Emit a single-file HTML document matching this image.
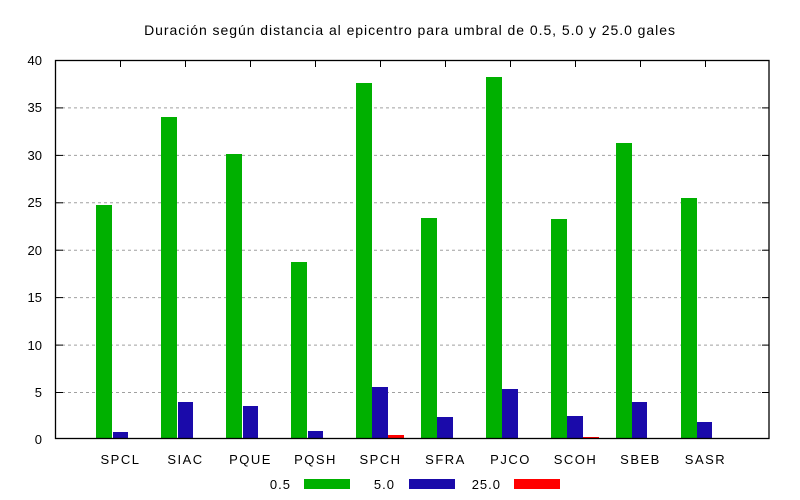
<!DOCTYPE html>
<html><head><meta charset="utf-8"><style>
html,body{margin:0;padding:0;background:#fff;}
svg{display:block;font-family:"Liberation Sans",Arial,sans-serif;}
</style></head><body>
<svg width="800" height="500" viewBox="0 0 800 500" xmlns="http://www.w3.org/2000/svg">
<rect width="800" height="500" fill="#fff"/>
<text x="410" y="35" font-size="14" letter-spacing="0.95" text-anchor="middle" fill="#000">Duración según distancia al epicentro para umbral de 0.5, 5.0 y 25.0 gales</text>
<g stroke="#a0a0a0" stroke-width="1" stroke-dasharray="3,3">
<line x1="56" x2="769" y1="107.9" y2="107.9"/>
<line x1="56" x2="769" y1="155.4" y2="155.4"/>
<line x1="56" x2="769" y1="202.8" y2="202.8"/>
<line x1="56" x2="769" y1="250.2" y2="250.2"/>
<line x1="56" x2="769" y1="297.6" y2="297.6"/>
<line x1="56" x2="769" y1="345.1" y2="345.1"/>
<line x1="56" x2="769" y1="392.5" y2="392.5"/>
</g>
<g font-size="13" text-anchor="end" fill="#000">
<text x="42" y="65">40</text><text x="42" y="112">35</text><text x="42" y="160">30</text>
<text x="42" y="207">25</text><text x="42" y="255">20</text><text x="42" y="302">15</text>
<text x="42" y="350">10</text><text x="42" y="397">5</text><text x="42" y="444">0</text>
</g>
<g fill="#00b000">
<rect x="96" y="205" width="16" height="234"/>
<rect x="161" y="117" width="16" height="322"/>
<rect x="226" y="154" width="16" height="285"/>
<rect x="291" y="262" width="16" height="177"/>
<rect x="356" y="83" width="16" height="356"/>
<rect x="421" y="218" width="16" height="221"/>
<rect x="486" y="77" width="16" height="362"/>
<rect x="551" y="219" width="16" height="220"/>
<rect x="616" y="143" width="16" height="296"/>
<rect x="681" y="198" width="16" height="241"/>
</g>
<g fill="#1a0aaa">
<rect x="113" y="432" width="15" height="7"/>
<rect x="178" y="402" width="15" height="37"/>
<rect x="243" y="406" width="15" height="33"/>
<rect x="308" y="431" width="15" height="8"/>
<rect x="372" y="387" width="16" height="52"/>
<rect x="437" y="417" width="16" height="22"/>
<rect x="502" y="389" width="16" height="50"/>
<rect x="567" y="416" width="16" height="23"/>
<rect x="632" y="402" width="15" height="37"/>
<rect x="697" y="422" width="15" height="17"/>
</g>
<g fill="#ff0000">
<rect x="388" y="435" width="16" height="4"/>
<rect x="583" y="437" width="16" height="2"/>
</g>
<rect x="55.5" y="60.5" width="713.5" height="378" fill="none" stroke="#000" stroke-width="1.3"/>
<g stroke="#000" stroke-width="1">
<line x1="120.5" x2="120.5" y1="60" y2="67"/><line x1="185.5" x2="185.5" y1="60" y2="67"/>
<line x1="250.5" x2="250.5" y1="60" y2="67"/><line x1="315.5" x2="315.5" y1="60" y2="67"/>
<line x1="380.5" x2="380.5" y1="60" y2="67"/><line x1="445.5" x2="445.5" y1="60" y2="67"/>
<line x1="510.5" x2="510.5" y1="60" y2="67"/><line x1="575.5" x2="575.5" y1="60" y2="67"/>
<line x1="640.5" x2="640.5" y1="60" y2="67"/><line x1="705.5" x2="705.5" y1="60" y2="67"/>
<line x1="56" x2="63" y1="107.9" y2="107.9"/><line x1="762" x2="769" y1="107.9" y2="107.9"/>
<line x1="56" x2="63" y1="155.4" y2="155.4"/><line x1="762" x2="769" y1="155.4" y2="155.4"/>
<line x1="56" x2="63" y1="202.8" y2="202.8"/><line x1="762" x2="769" y1="202.8" y2="202.8"/>
<line x1="56" x2="63" y1="250.2" y2="250.2"/><line x1="762" x2="769" y1="250.2" y2="250.2"/>
<line x1="56" x2="63" y1="297.6" y2="297.6"/><line x1="762" x2="769" y1="297.6" y2="297.6"/>
<line x1="56" x2="63" y1="345.1" y2="345.1"/><line x1="762" x2="769" y1="345.1" y2="345.1"/>
<line x1="56" x2="63" y1="392.5" y2="392.5"/><line x1="762" x2="769" y1="392.5" y2="392.5"/>
</g>
<g font-size="13" letter-spacing="1.5" text-anchor="middle" fill="#000">
<text x="120.5" y="464">SPCL</text><text x="185.5" y="464">SIAC</text><text x="250.5" y="464">PQUE</text>
<text x="315.5" y="464">PQSH</text><text x="380.5" y="464">SPCH</text><text x="445.5" y="464">SFRA</text>
<text x="510.5" y="464">PJCO</text><text x="575.5" y="464">SCOH</text><text x="640.5" y="464">SBEB</text>
<text x="705.5" y="464">SASR</text>
</g>
<g font-size="13" letter-spacing="1" text-anchor="end" fill="#000">
<text x="291" y="489">0.5</text><text x="395" y="489">5.0</text><text x="501" y="489">25.0</text>
</g>
<rect x="304" y="479" width="46" height="10" fill="#00b000"/>
<rect x="409" y="479" width="46" height="10" fill="#1a0aaa"/>
<rect x="514" y="479" width="46" height="10" fill="#ff0000"/>
</svg>
</body></html>
